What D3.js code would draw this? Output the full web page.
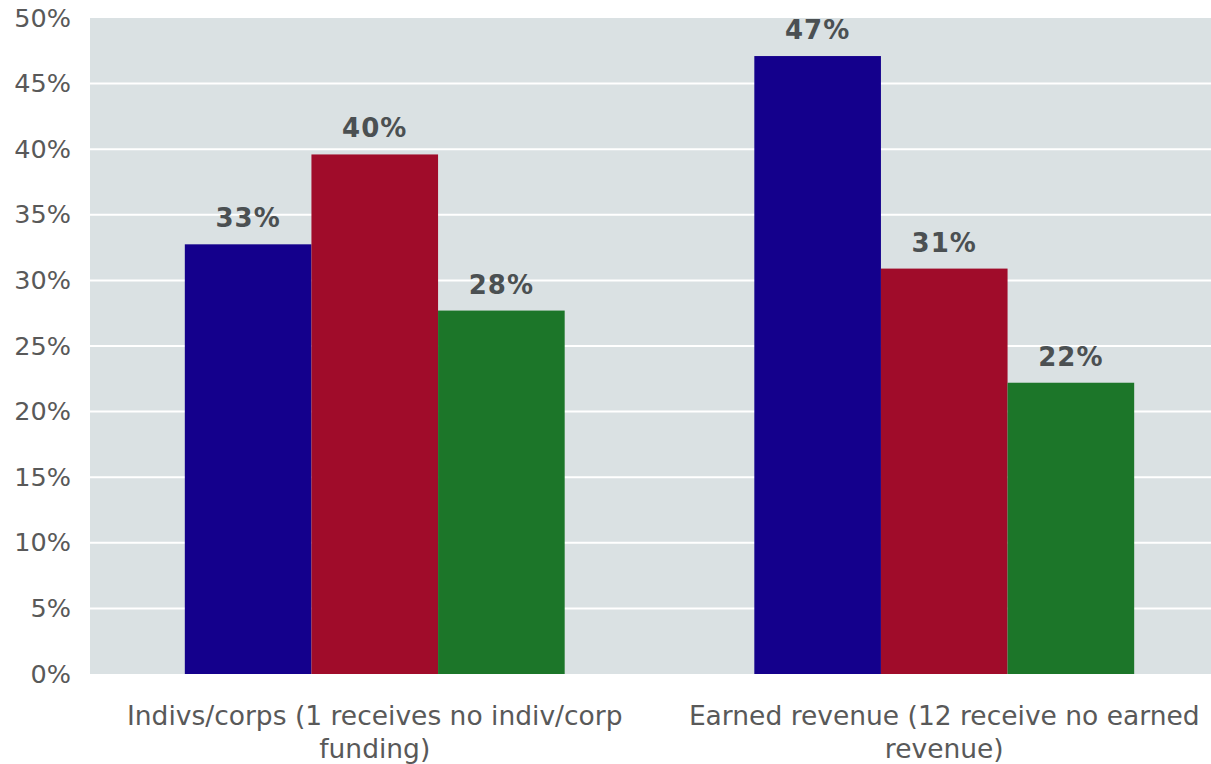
<!DOCTYPE html>
<html>
<head>
<meta charset="utf-8">
<script src="https://cdn.jsdelivr.net/npm/d3@7"></script>
<style>
  html, body { margin: 0; padding: 0; background: #fff; }
  svg { display: block; }
</style>
</head>
<body>
<svg id="chart" width="1211" height="764"></svg>
<script>
// Funding source categories and the three series shares per category
const categories = [
  "Indivs/corps (1 receives no indiv/corp funding)",
  "Earned revenue (12 receive no earned revenue)"
];
const seriesNames = ["Series A", "Series B", "Series C"];
const seriesA = [0.3275, 0.471];
const seriesB = [0.396, 0.309];
const seriesC = [0.277, 0.222];
const seriesColors = ["#14008c", "#a00c2a", "#1c7629"];
const yTicks = [0, 0.05, 0.10, 0.15, 0.20, 0.25, 0.30, 0.35, 0.40, 0.45, 0.50];

const svg = d3.select("#chart");
const plot = { left: 90, right: 1229, top: 18, bottom: 674 };

const x0 = d3.scaleBand()
  .domain(categories)
  .range([plot.left, plot.right])
  .paddingInner(0.333)
  .paddingOuter(0.1665);

const x1 = d3.scaleBand()
  .domain(seriesNames)
  .range([0, x0.bandwidth()]);

const y = d3.scaleLinear()
  .domain([0, 0.5])
  .range([plot.bottom, plot.top]);

const color = d3.scaleOrdinal().domain(seriesNames).range(seriesColors);
const pct = d3.format(".0%");

// Plot background
svg.append("rect")
  .attr("x", plot.left).attr("y", plot.top)
  .attr("width", plot.right - plot.left)
  .attr("height", plot.bottom - plot.top)
  .attr("fill", "#dae1e3");

// Horizontal gridlines
svg.append("g")
  .selectAll("line")
  .data(yTicks.filter(t => t > 0 && t < 0.5))
  .join("line")
  .attr("x1", plot.left).attr("x2", plot.right)
  .attr("y1", d => y(d)).attr("y2", d => y(d))
  .attr("stroke", "#ffffff")
  .attr("stroke-width", 2);

// Y axis labels
const yAxis = d3.axisLeft(y)
  .tickValues(yTicks)
  .tickFormat(pct)
  .tickSize(0)
  .tickPadding(19);
const yg = svg.append("g")
  .attr("transform", `translate(${plot.left},0)`)
  .call(yAxis);
yg.select(".domain").remove();
yg.selectAll("text")
  .attr("font-family", "DejaVu Sans, sans-serif")
  .attr("font-size", 25.5)
  .attr("fill", "#595959");

// Bars
const rows = categories.map((c, i) => ({
  category: c,
  values: [
    { series: seriesNames[0], value: seriesA[i] },
    { series: seriesNames[1], value: seriesB[i] },
    { series: seriesNames[2], value: seriesC[i] }
  ]
}));

const groups = svg.append("g")
  .selectAll("g")
  .data(rows)
  .join("g")
  .attr("transform", d => `translate(${x0(d.category)},0)`);

groups.selectAll("rect")
  .data(d => d.values)
  .join("rect")
  .attr("x", d => x1(d.series))
  .attr("y", d => y(d.value))
  .attr("width", x1.bandwidth())
  .attr("height", d => y(0) - y(d.value))
  .attr("fill", d => color(d.series));

// Value labels above bars
groups.selectAll("text")
  .data(d => d.values)
  .join("text")
  .attr("x", d => x1(d.series) + x1.bandwidth() / 2)
  .attr("y", d => y(d.value) - 17)
  .attr("text-anchor", "middle")
  .attr("font-family", "DejaVu Sans, sans-serif")
  .attr("font-weight", "bold")
  .attr("font-size", 26)
  .attr("letter-spacing", 1)
  .attr("fill", "#4b5052")
  .text(d => pct(d.value));

// Category labels, wrapped within the band
const xAxis = d3.axisBottom(x0).tickSize(0).tickPadding(0);
const xg = svg.append("g")
  .attr("transform", `translate(0,${plot.bottom})`)
  .call(xAxis);
xg.select(".domain").remove();
xg.selectAll("text")
  .attr("font-family", "DejaVu Sans, sans-serif")
  .attr("font-size", 26.5)
  .attr("fill", "#595959")
  .attr("y", 51)
  .attr("dy", 0)
  .each(function () { wrap(d3.select(this), 545); });

function wrap(text, width) {
  const words = text.text().split(/\s+/);
  const xPos = text.attr("x") || 0;
  const yPos = text.attr("y");
  text.text(null);
  let line = [];
  let lineNo = 0;
  let tspan = text.append("tspan").attr("x", xPos).attr("y", yPos);
  for (const w of words) {
    line.push(w);
    tspan.text(line.join(" "));
    if (tspan.node().getComputedTextLength() > width && line.length > 1) {
      line.pop();
      tspan.text(line.join(" "));
      line = [w];
      lineNo++;
      tspan = text.append("tspan")
        .attr("x", xPos)
        .attr("y", +yPos + lineNo * 33)
        .text(w);
    }
  }
}
</script>
</body>
</html>
